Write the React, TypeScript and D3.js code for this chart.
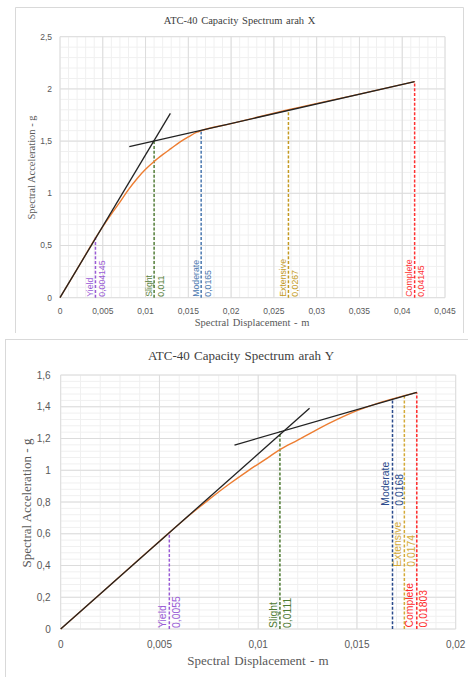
import React from 'react';
import * as d3 from 'd3';

// ---------- Direction X ----------
const xDirDisp = [0, 0.002, 0.004145, 0.005, 0.006, 0.007, 0.008, 0.009, 0.01, 0.011, 0.012, 0.013, 0.014, 0.015, 0.016, 0.0165, 0.02, 0.0267, 0.035, 0.04145];
const xDirAcc = [0, 0.273, 0.57, 0.68, 0.8, 0.915, 1.035, 1.14, 1.23, 1.305, 1.37, 1.43, 1.49, 1.54, 1.585, 1.6, 1.668, 1.8, 1.95, 2.07];
const xDirInitDisp = [0, 0.0129];
const xDirInitAcc = [0, 1.766];
const xDirPostDisp = [0.0081, 0.04145];
const xDirPostAcc = [1.446, 2.07];
const xDirStates = ['Yield', 'Slight', 'Moderate', 'Extensive', 'Complete'];
const xDirStateDisp = [0.004145, 0.011, 0.0165, 0.0267, 0.04145];
const xDirStateAcc = [0.58, 1.5, 1.6, 1.8, 2.07];
const xDirXTicks = [0, 0.005, 0.01, 0.015, 0.02, 0.025, 0.03, 0.035, 0.04, 0.045];
const xDirYTicks = [0, 0.5, 1, 1.5, 2, 2.5];

// ---------- Direction Y ----------
const yDirDisp = [0, 0.002, 0.004, 0.0055, 0.0065, 0.0075, 0.0085, 0.0095, 0.0105, 0.0111, 0.012, 0.013, 0.014, 0.015, 0.016, 0.0168, 0.0174, 0.01803];
const yDirAcc = [0, 0.221, 0.442, 0.607, 0.715, 0.815, 0.91, 0.998, 1.08, 1.13, 1.19, 1.258, 1.32, 1.375, 1.42, 1.45, 1.47, 1.49];
const yDirInitDisp = [0, 0.0126];
const yDirInitAcc = [0, 1.39];
const yDirPostDisp = [0.0088, 0.01803];
const yDirPostAcc = [1.159, 1.49];
const yDirStates = ['Yield', 'Slight', 'Moderate', 'Extensive', 'Complete'];
const yDirStateDisp = [0.0055, 0.0111, 0.0168, 0.0174, 0.01803];
const yDirStateAcc = [0.607, 1.245, 1.45, 1.47, 1.49];
const yDirXTicks = [0, 0.005, 0.01, 0.015, 0.02];
const yDirYTicks = [0, 0.2, 0.4, 0.6, 0.8, 1, 1.2, 1.4, 1.6];

const SERIF = '"Liberation Serif", "Times New Roman", serif';
const SANS = '"Liberation Sans", Arial, sans-serif';
const fmt = (v: number) => String(v).replace('.', ',');

type PanelCfg = {
  title: string;
  disp: number[];
  acc: number[];
  initDisp: number[];
  initAcc: number[];
  postDisp: number[];
  postAcc: number[];
  states: string[];
  stateDisp: number[];
  stateAcc: number[];
  stateColors: string[];
  labelLift: number[];
  xTicks: number[];
  yTicks: number[];
  xRange: [number, number];
  yRange: [number, number];
  titleY: number;
  titleX: number;
  titleSize: number;
  axisTitleSize: number;
  xTitleX: number;
  xTitleY: number;
  yTitleX: number;
  yTitleY: number;
  tickSize: number;
  xTickY: number;
  yTickX: number;
  labelSize: number;
  nameDx: number;
  valueDx: number;
};

const panelX: PanelCfg = {
  title: 'ATC-40 Capacity Spectrum arah X',
  disp: xDirDisp,
  acc: xDirAcc,
  initDisp: xDirInitDisp,
  initAcc: xDirInitAcc,
  postDisp: xDirPostDisp,
  postAcc: xDirPostAcc,
  states: xDirStates,
  stateDisp: xDirStateDisp,
  stateAcc: xDirStateAcc,
  stateColors: ['#9A5CD6', '#55803A', '#4A78B0', '#C49A22', '#FF3030'],
  labelLift: [1, 1, 1, 1, 1],
  xTicks: xDirXTicks,
  yTicks: xDirYTicks,
  xRange: [60, 445],
  yRange: [297.7, 36.7],
  titleX: 239.5,
  titleY: 23.5,
  titleSize: 10.5,
  axisTitleSize: 10.5,
  xTitleX: 252,
  xTitleY: 326,
  yTitleX: 34.5,
  yTitleY: 167.5,
  tickSize: 8.5,
  xTickY: 313.5,
  yTickX: 52,
  labelSize: 8.7,
  nameDx: -2.3,
  valueDx: 9.5,
};

const panelY: PanelCfg = {
  title: 'ATC-40 Capacity Spectrum arah Y',
  disp: yDirDisp,
  acc: yDirAcc,
  initDisp: yDirInitDisp,
  initAcc: yDirInitAcc,
  postDisp: yDirPostDisp,
  postAcc: yDirPostAcc,
  states: yDirStates,
  stateDisp: yDirStateDisp,
  stateAcc: yDirStateAcc,
  stateColors: ['#9A5CD6', '#4E7A32', '#2A4A8C', '#D4AA38', '#FF2A2A'],
  labelLift: [1, 1, 123.3, 62.3, 1.5],
  xTicks: yDirXTicks,
  yTicks: yDirYTicks,
  xRange: [60.7, 455.7],
  yRange: [629, 375],
  titleX: 241,
  titleY: 359.5,
  titleSize: 13,
  axisTitleSize: 13,
  xTitleX: 258,
  xTitleY: 664.5,
  yTitleX: 31,
  yTitleY: 503,
  tickSize: 10,
  xTickY: 648,
  yTickX: 50.7,
  labelSize: 10.4,
  nameDx: -3.3,
  valueDx: 10.6,
};

function Panel({ cfg }: { cfg: PanelCfg }) {
  const xMax = cfg.xTicks[cfg.xTicks.length - 1];
  const yMax = cfg.yTicks[cfg.yTicks.length - 1];
  const x = d3.scaleLinear().domain([0, xMax]).range(cfg.xRange);
  const y = d3.scaleLinear().domain([0, yMax]).range(cfg.yRange);

  const xStep = cfg.xTicks[1] - cfg.xTicks[0];
  const yStep = cfg.yTicks[1] - cfg.yTicks[0];
  const xMinor = d3.range(0, xMax + xStep / 100, xStep / 5);
  const yMinor = d3.range(0, yMax + yStep / 100, yStep / 5);

  const pts = (xs: number[], ys: number[]) => xs.map((d, i) => [d, ys[i]] as [number, number]);
  const curve = d3
    .line<[number, number]>()
    .x((d) => x(d[0]))
    .y((d) => y(d[1]))
    .curve(d3.curveMonotoneX);
  const straight = d3
    .line<[number, number]>()
    .x((d) => x(d[0]))
    .y((d) => y(d[1]));

  const [x0, x1] = cfg.xRange;
  const [y0, y1] = cfg.yRange;

  return (
    <g>
      {/* minor grid */}
      {xMinor.map((t, i) => (
        <line key={'mx' + i} x1={x(t)} x2={x(t)} y1={y0} y2={y1} stroke="#f0f0f0" strokeWidth={1} />
      ))}
      {yMinor.map((t, i) => (
        <line key={'my' + i} x1={x0} x2={x1} y1={y(t)} y2={y(t)} stroke="#f0f0f0" strokeWidth={1} />
      ))}
      {/* major grid */}
      {cfg.xTicks.map((t, i) => (
        <line key={'gx' + i} x1={x(t)} x2={x(t)} y1={y0} y2={y1} stroke="#dcdcdc" strokeWidth={1} />
      ))}
      {cfg.yTicks.map((t, i) => (
        <line key={'gy' + i} x1={x0} x2={x1} y1={y(t)} y2={y(t)} stroke="#dcdcdc" strokeWidth={1} />
      ))}

      {/* damage-state markers */}
      {cfg.states.map((s, i) => (
        <line
          key={'ds' + s}
          x1={x(cfg.stateDisp[i])}
          x2={x(cfg.stateDisp[i])}
          y1={y(0)}
          y2={y(cfg.stateAcc[i])}
          stroke={cfg.stateColors[i]}
          strokeWidth={1.5}
          strokeDasharray="3 1.8"
        />
      ))}

      {/* capacity spectrum */}
      <path d={curve(pts(cfg.disp, cfg.acc)) || ''} fill="none" stroke="#ED7D31" strokeWidth={1.4} />
      {/* bilinear idealisation */}
      <path d={straight(pts(cfg.initDisp, cfg.initAcc)) || ''} fill="none" stroke="#222" strokeWidth={1.3} />
      <path d={straight(pts(cfg.postDisp, cfg.postAcc)) || ''} fill="none" stroke="#222" strokeWidth={1.3} />

      {/* damage-state labels */}
      {cfg.states.map((s, i) => {
        const px = x(cfg.stateDisp[i]);
        const py = y(0) - cfg.labelLift[i];
        return (
          <g key={'lb' + s} fill={cfg.stateColors[i]} fontFamily={SANS} fontSize={cfg.labelSize}>
            <text transform={`translate(${px + cfg.nameDx},${py}) rotate(-90)`}>{s}</text>
            <text transform={`translate(${px + cfg.valueDx},${py}) rotate(-90)`}>{fmt(cfg.stateDisp[i])}</text>
          </g>
        );
      })}

      {/* tick labels */}
      {cfg.xTicks.map((t, i) => (
        <text
          key={'tx' + i}
          x={x(t)}
          y={cfg.xTickY}
          textAnchor="middle"
          fontFamily={SANS}
          fontSize={cfg.tickSize}
          fill="#595959"
        >
          {fmt(t)}
        </text>
      ))}
      {cfg.yTicks.map((t, i) => (
        <text
          key={'ty' + i}
          x={cfg.yTickX}
          y={y(t)}
          dy="0.35em"
          textAnchor="end"
          fontFamily={SANS}
          fontSize={cfg.tickSize}
          fill="#595959"
        >
          {fmt(t)}
        </text>
      ))}

      {/* titles */}
      <text x={cfg.titleX} y={cfg.titleY} textAnchor="middle" fontFamily={SERIF} fontSize={cfg.titleSize} fill="#404040" wordSpacing={1}>
        {cfg.title}
      </text>
      <text x={cfg.xTitleX} y={cfg.xTitleY} textAnchor="middle" fontFamily={SERIF} fontSize={cfg.axisTitleSize} fill="#595959" wordSpacing={1}>
        Spectral Displacement - m
      </text>
      <text
        transform={`translate(${cfg.yTitleX},${cfg.yTitleY}) rotate(-90)`}
        textAnchor="middle"
        fontFamily={SERIF}
        fontSize={cfg.axisTitleSize}
        fill="#595959"
      >
        Spectral Acceleration - g
      </text>
    </g>
  );
}

export default function App() {
  return (
    <div style={{ position: 'absolute', left: 0, top: 0 }}>
      <svg width={468} height={677} style={{ display: 'block', background: '#fff' }}>
        <path d="M15.5,333 V7.5 H463.5 V333" fill="none" stroke="#d9d9d9" strokeWidth={1} />
        <Panel cfg={panelX} />
        <rect x={5.5} y={339.5} width={470} height={345} fill="#fff" stroke="#d9d9d9" strokeWidth={1} />
        <Panel cfg={panelY} />
      </svg>
    </div>
  );
}
